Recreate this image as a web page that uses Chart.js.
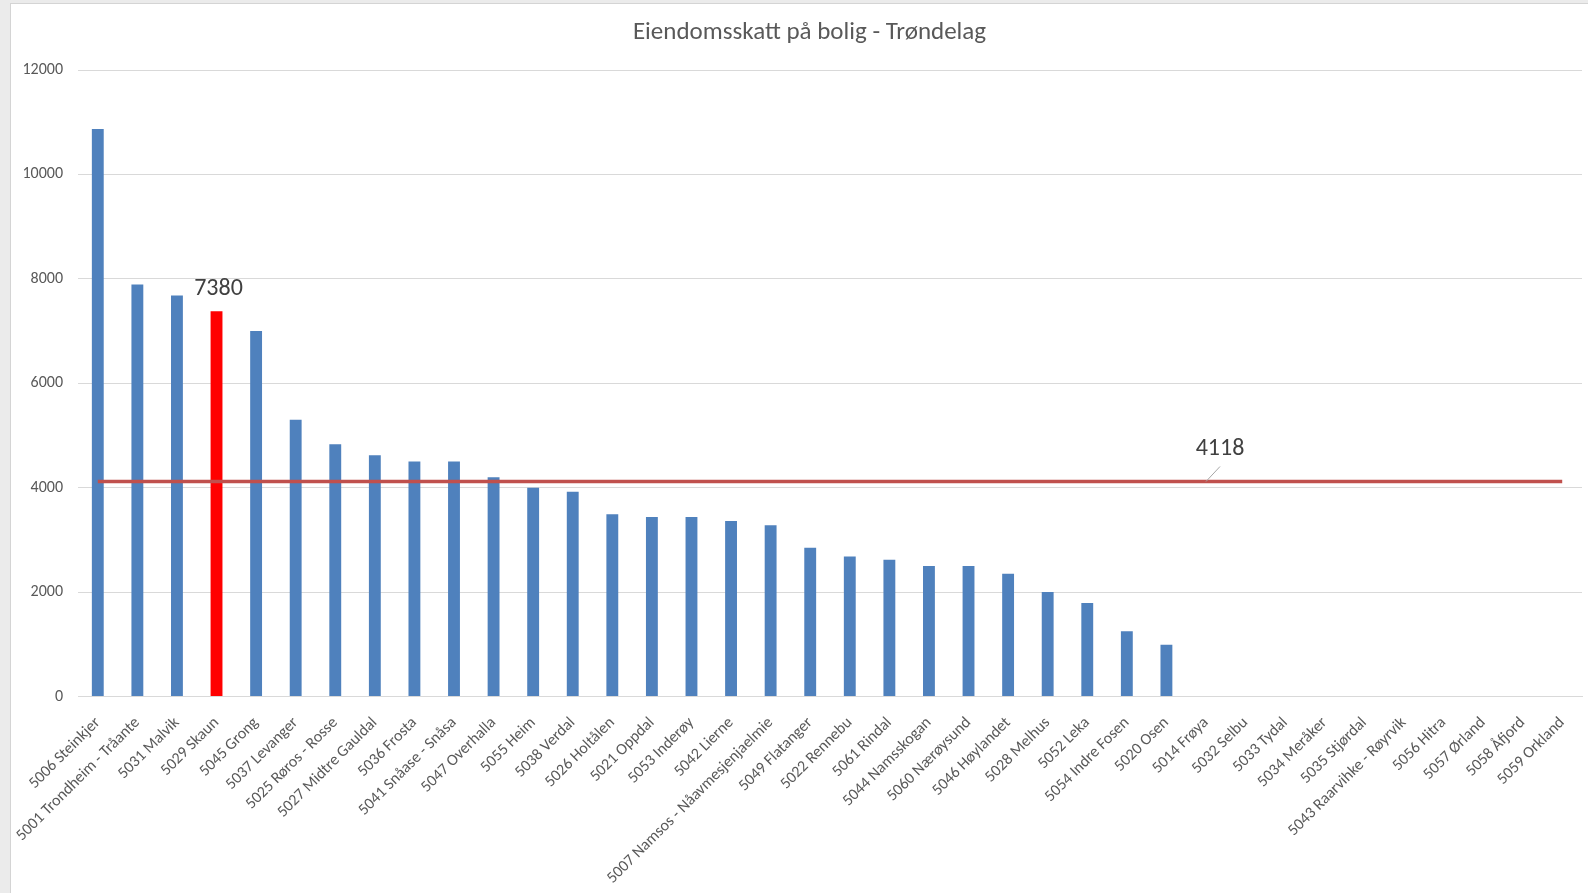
<!DOCTYPE html>
<html>
<head>
<meta charset="utf-8">
<script src="https://cdn.jsdelivr.net/npm/chart.js@4"></script>
<style>
  html, body { margin: 0; padding: 0; background: #ebebeb; width: 1588px; height: 893px; overflow: hidden; }
  #box {
    position: absolute; left: 10px; top: 3px; width: 1578px; height: 890px;
    background: #fff; border-left: 1px solid #d4d4d4; border-top: 1px solid #d4d4d4;
    box-sizing: border-box;
  }
  #wrap { position: relative; width: 100%; height: 100%; }
</style>
</head>
<body>
<div id="box"><div id="wrap"><canvas id="skatt"></canvas></div></div>
<script>
const municipalities = [
  '5006 Steinkjer', '5001 Trondheim - Tråante', '5031 Malvik', '5029 Skaun', '5045 Grong',
  '5037 Levanger', '5025 Røros - Rosse', '5027 Midtre Gauldal', '5036 Frosta', '5041 Snåase - Snåsa',
  '5047 Overhalla', '5055 Heim', '5038 Verdal', '5026 Holtålen', '5021 Oppdal',
  '5053 Inderøy', '5042 Lierne', '5007 Namsos - Nåavmesjenjaelmie', '5049 Flatanger', '5022 Rennebu',
  '5061 Rindal', '5044 Namsskogan', '5060 Nærøysund', '5046 Høylandet', '5028 Melhus',
  '5052 Leka', '5054 Indre Fosen', '5020 Osen', '5014 Frøya', '5032 Selbu',
  '5033 Tydal', '5034 Meråker', '5035 Stjørdal', '5043 Raarvihke - Røyrvik', '5056 Hitra',
  '5057 Ørland', '5058 Åfjord', '5059 Orkland'
];

const taxValues = [
  10870, 7890, 7680, 7380, 7000,
  5300, 4830, 4620, 4500, 4500,
  4200, 4000, 3920, 3490, 3440,
  3440, 3360, 3280, 2850, 2680,
  2620, 2500, 2500, 2350, 2000,
  1790, 1250, 990, 0, 0,
  0, 0, 0, 0, 0,
  0, 0, 0
];

const averageValue = 4118;
const highlighted = '5029 Skaun';
const averageLabelAt = '5014 Frøya';
const chartTitle = 'Eiendomsskatt på bolig - Trøndelag';

const yTicks = [0, 2000, 4000, 6000, 8000, 10000, 12000];

const FONT = 'Carlito, Calibri, Lato, sans-serif';
const BLUE = '#4f81bd';
const RED = '#ff0000';

// title (drawn by hand so it can sit a bit right of the canvas centre, like Excel does)
const excelTitle = {
  id: 'excelTitle',
  afterDraw(chart) {
    const ctx = chart.ctx;
    ctx.save();
    ctx.fillStyle = '#595959';
    ctx.font = '25px ' + FONT;
    ctx.textAlign = 'center';
    ctx.textBaseline = 'middle';
    ctx.fillText(chartTitle, chart.width / 2 + 10, 29);
    ctx.restore();
  }
};

// labels for the highlighted bar and the average line
const valueLabels = {
  id: 'valueLabels',
  afterDatasetsDraw(chart) {
    const ctx = chart.ctx;
    ctx.save();
    ctx.fillStyle = '#404040';
    ctx.font = '24px ' + FONT;
    ctx.textAlign = 'center';
    ctx.textBaseline = 'middle';

    const hi = municipalities.indexOf(highlighted);
    const bar = chart.getDatasetMeta(1).data[hi];
    ctx.fillText(String(taxValues[hi]), bar.x + 2, bar.y - 22);

    const ai = municipalities.indexOf(averageLabelAt);
    const pt = chart.getDatasetMeta(0).data[ai];
    ctx.strokeStyle = '#a6a6a6';
    ctx.lineWidth = 1;
    ctx.beginPath();
    ctx.moveTo(pt.x, pt.y);
    ctx.lineTo(pt.x + 14, pt.y - 15);
    ctx.stroke();
    ctx.fillText(String(averageValue), pt.x + 14, pt.y - 33);
    ctx.restore();
  }
};

try {
  new Chart(document.getElementById('skatt'), {
    type: 'bar',
    plugins: [valueLabels, excelTitle],
    data: {
      labels: municipalities,
      datasets: [
        {
          type: 'line',
          label: 'Snitt',
          data: municipalities.map(() => averageValue),
          borderColor: '#c0504d',
          borderWidth: 3.5,
          pointRadius: 0,
          fill: false
        },
        {
          label: 'Eiendomsskatt',
          data: taxValues,
          backgroundColor: municipalities.map(m => m === highlighted ? RED : BLUE),
          barPercentage: 0.3,
          categoryPercentage: 1
        }
      ]
    },
    options: {
      responsive: true,
      maintainAspectRatio: false,
      animation: false,
      layout: { padding: { left: 0, right: 6, top: 66, bottom: 0 } },
      plugins: {
        legend: { display: false },
        tooltip: { enabled: false },
        title: { display: false }
      },
      scales: {
        x: {
          grid: { display: false },
          border: { display: true, color: '#d9d9d9', width: 1 },
          ticks: {
            autoSkip: false,
            maxRotation: 45,
            minRotation: 45,
            padding: 9,
            color: '#595959',
            font: { family: FONT, size: 16 }
          },
          afterFit(scale) { scale.height = 196.5; }
        },
        y: {
          min: 0,
          max: 12000,
          afterBuildTicks(scale) { scale.ticks = yTicks.map(v => ({ value: v })); },
          grid: { color: '#d9d9d9', lineWidth: 1, drawTicks: false },
          border: { display: false },
          ticks: {
            padding: 15,
            color: '#595959',
            font: { family: FONT, size: 16 },
            callback: v => String(v)
          },
          afterFit(scale) { scale.width = 67; }
        }
      }
    }
  });
} catch (error) {
  console.log(error);
}
</script>
</body>
</html>
